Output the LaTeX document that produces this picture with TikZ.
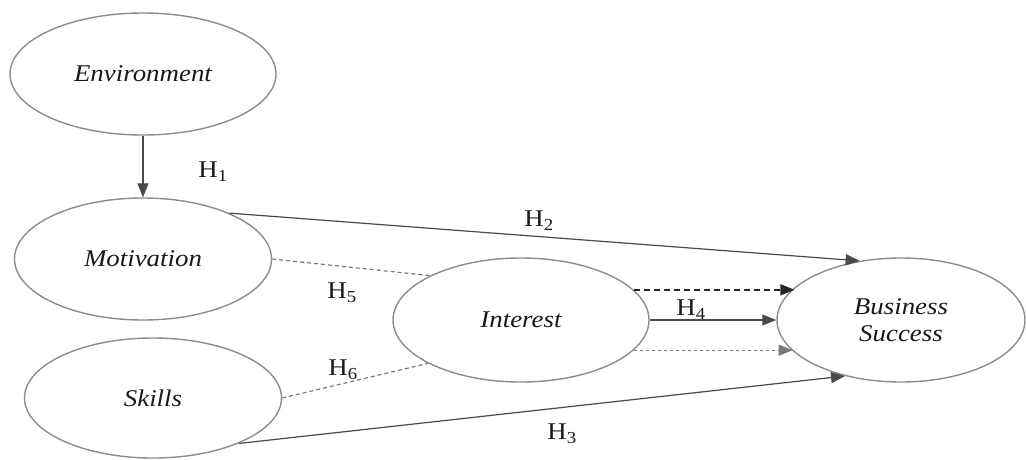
\documentclass[tikz,border=0pt]{standalone}
\usepackage{fontspec}
\setmainfont{Liberation Serif}[FakeStretch=1.12]
\usetikzlibrary{shapes.geometric,arrows.meta}
\definecolor{ellcol}{HTML}{8C8C8C}
\definecolor{linecol}{HTML}{4A4A4A}
\definecolor{dashcol}{HTML}{7A7A7A}
\tikzset{
  construct/.style={ellipse, draw=ellcol, line width=1.4pt, inner sep=0pt,
    font=\fontsize{24}{27}\selectfont\itshape, align=center, text=black!90},
  hlabel/.style={font=\fontsize{24}{27}\selectfont, inner sep=0pt, text=black!90},
  tip/.style={-{Triangle[length=14pt,width=11pt]}},
  solidlink/.style={tip, draw=linecol, line width=1.2pt},
  darkdash/.style={tip, draw=black!85, line width=1.5pt, dash pattern=on 6pt off 4pt},
  lightdash/.style={draw=dashcol, line width=1.2pt, dash pattern=on 4pt off 3pt},
  lightdot/.style={tip, draw=dashcol, line width=1.2pt, dash pattern=on 3pt off 3pt},
}
\begin{document}
\begin{tikzpicture}[x=1pt,y=-1pt]
\useasboundingbox (0,0) rectangle (1026,459);
\node[construct, minimum width=266pt, minimum height=122pt] (env) at (143,74) {Environment};
\node[construct, minimum width=257pt, minimum height=122pt] (mot) at (143,259) {Motivation};
\node[construct, minimum width=257pt, minimum height=120pt] (sk) at (153,398) {Skills};
\node[construct, minimum width=256pt, minimum height=124pt] (int) at (521,320) {Interest};
\node[construct, minimum width=248pt, minimum height=124pt] (bs) at (901,320) {Business\\Success};

\draw[solidlink] (env.south) -- (mot.north);
\draw[solidlink] (mot.28.4) -- (bs.125.2);
\draw[lightdash] (mot.east) -- (int.154.7);
\draw[lightdash] (sk.east) -- (int.205.8);
\draw[solidlink] (sk.-28.9) -- (bs.225);
\draw[darkdash] (int.15.6) -- (int.15.6 -| bs.163.9);
\draw[solidlink] (int.east) -- (bs.west);
\draw[lightdot] (int.-15.1) -- (int.-15.1 -| bs.-164.4);

\node[hlabel] (h1) at (213,172) {H\textsubscript{1}};
\node[hlabel] (h2) at (539,221) {H\textsubscript{2}};
\node[hlabel] (h3) at (562,434) {H\textsubscript{3}};
\node[hlabel] (h4) at (691,310) {H\textsubscript{4}};
\node[hlabel] (h5) at (342,293) {H\textsubscript{5}};
\node[hlabel] (h6) at (343,370) {H\textsubscript{6}};
\end{tikzpicture}
\end{document}
